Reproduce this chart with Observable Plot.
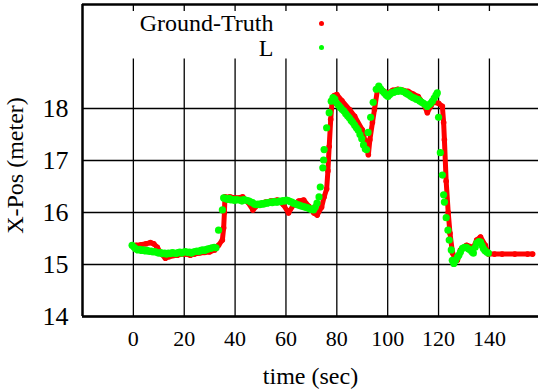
<!DOCTYPE html>
<html><head><meta charset="utf-8">
<script src="https://cdn.jsdelivr.net/npm/d3@7"></script>
<script src="https://cdn.jsdelivr.net/npm/@observablehq/plot@0.6"></script>
<style>
body{margin:0;background:#fff;overflow:hidden}
</style>
</head><body><div id="chart"></div>
<script>
// Ground-Truth series (time in sec, X position in meter)
const gtTime = [1,3,5,6.7,8,9.4,11,12.6,14,17.3,20,22.4,24,26,28,30,32,33.5,35,35.5,35.8,36,38,40.5,43,45,47,49,52,54,56.6,59,61,63,65,67,69,71,72.3,74,75,76,76.5,77,77.6,78.2,79,80,82,85,87,90,91.5,92.4,93,94,94.8,96,98,100,102,104,106,108,110,112,114,115.6,117,118,120,121.5,122,122.3,123,123.8,124.5,125.5,126.5,127.4,128.6,131,133.7,135,136.5,138.4,139.6,142,145,150,155,157];
const gtPos  = [15.37,15.38,15.4,15.42,15.4,15.33,15.2,15.12,15.15,15.18,15.2,15.18,15.2,15.22,15.23,15.24,15.28,15.37,15.47,15.7,16.0,16.3,16.3,16.28,16.3,16.2,16.05,16.15,16.2,16.22,16.24,16.15,15.99,16.15,16.22,16.24,16.12,15.99,15.95,16.1,16.3,16.45,16.8,17.27,17.79,18.17,18.25,18.27,18.15,17.98,17.85,17.59,17.3,17.11,17.4,17.73,17.98,18.37,18.35,18.3,18.35,18.37,18.35,18.33,18.28,18.23,18.1,17.92,18.05,18.12,18.1,18.04,17.73,17.4,16.6,16.0,15.6,15.22,15.1,15.08,15.28,15.37,15.33,15.47,15.53,15.37,15.2,15.2,15.2,15.2,15.2,15.2];
// L series
const lTime = [-0.5,0.3,1,1.8,2.5,3.3,4,4.8,5.5,6.3,7,7.8,8.5,9.3,10,10.8,11.5,12.3,13,13.8,14.5,15.3,16,16.8,17.5,18.3,19,19.8,20.5,21.3,22,22.8,23.5,24.3,25,25.8,26.5,27.3,28,28.8,29.5,30.3,31,31.8,32.5,
  33.5,35,35.5,
  36.2,37,37.7,38.4,39.1,39.8,40.5,41.2,42,42.7,43.4,44.1,44.8,45.5,46.2,46.9,47.6,48.3,49,49.7,50.4,51.1,51.8,52.5,53.2,53.9,54.6,55.3,56,56.7,57.4,58.1,58.8,59.5,60.2,60.9,61.6,62.3,63,63.7,64.4,65.1,65.8,66.5,67.2,67.9,68.6,69.3,70,70.8,71.5,72.2,73,
  73.5,74.5,74.8,75,76,77,77.8,78.5,
  79.2,80,80.7,81.4,82.1,82.8,83.5,84.2,84.9,85.6,86.3,87,87.7,88.4,89.1,89.8,90.5,91.2,91.7,92.3,93.3,94.3,95.5,96.5,
  97.2,98,98.7,99.4,100.1,100.8,101.5,102.2,102.9,103.6,104.3,105,105.7,106.4,107.1,107.8,108.5,109.2,109.9,110.6,111.3,112,112.7,113.4,114.1,114.8,115.5,116.2,116.9,117.6,118.3,119,119.5,
  120,120.7,121.5,122,122.3,123,123.7,124.2,125,125.4,126,126.7,127.4,128,128.6,129.4,130.2,131,131.8,132.5,133.2,133.7,134.4,135,135.8,136.5,137.1,137.6,138.2,138.9,139.6];
const lPos  = [15.37,15.33,15.3,15.28,15.29,15.27,15.28,15.26,15.27,15.25,15.26,15.24,15.25,15.23,15.22,15.23,15.21,15.22,15.2,15.22,15.21,15.23,15.22,15.21,15.23,15.24,15.22,15.24,15.25,15.23,15.24,15.22,15.24,15.25,15.26,15.25,15.27,15.28,15.27,15.29,15.3,15.31,15.32,15.33,15.32,
  15.66,16.05,16.28,
  16.27,16.25,16.27,16.24,16.25,16.23,16.25,16.24,16.24,16.22,16.25,16.24,16.23,16.22,16.2,16.19,16.16,16.15,16.16,16.15,16.17,16.16,16.18,16.18,16.19,16.2,16.19,16.21,16.2,16.2,16.22,16.21,16.23,16.22,16.24,16.23,16.21,16.2,16.18,16.17,16.15,16.14,16.13,16.12,16.11,16.1,16.09,16.07,16.06,16.05,16.1,16.18,16.3,
  16.49,16.86,17.01,17.21,17.63,17.92,18.14,18.21,
  18.18,18.1,18.06,18.02,17.98,17.95,17.9,17.86,17.82,17.77,17.73,17.68,17.63,17.58,17.5,17.42,17.3,17.22,17.21,17.54,17.83,18.12,18.37,18.43,
  18.38,18.33,18.3,18.26,18.23,18.27,18.3,18.31,18.32,18.34,18.33,18.35,18.33,18.32,18.3,18.28,18.26,18.23,18.21,18.2,18.18,18.17,18.14,18.12,18.1,18.07,18.04,18.07,18.1,18.14,18.2,18.26,18.3,
  17.83,17.15,16.72,16.34,16.2,15.9,15.66,15.47,15.28,15.08,15.02,15.08,15.14,15.18,15.24,15.31,15.33,15.33,15.3,15.28,15.24,15.22,15.33,15.41,15.44,15.43,15.37,15.31,15.27,15.24,15.22];

const xTicks = [0,20,40,60,80,100,120,140];
const yTicks = [14,15,16,17,18];
const legendLabels = ["Ground-Truth","L"];
const seriesColors = ["#ff0000","#00ff00"];
const xLabel = "time (sec)";
const yLabel = "X-Pos (meter)";

const gt = gtTime.map((t,i)=>({t, v: gtPos[i]}));
const lp = lTime.map((t,i)=>({t, v: lPos[i]}));
const serif = "Liberation Serif";

const chart = Plot.plot({
  width: 538, height: 392,
  marginLeft: 82, marginRight: 0, marginTop: 4, marginBottom: 76,
  style: {background: "#fff", color: "#000", fontFamily: serif},
  x: {domain: [-20, 159.3]},
  y: {domain: [14, 20]},
  marks: [
    Plot.gridY(yTicks, {stroke: "#000", strokeOpacity: 1, strokeWidth: 1.3}),
    Plot.ruleX(xTicks, {y1: 14, y2: 18.95, stroke: "#000", strokeWidth: 1.3}),
    Plot.axisX(xTicks, {anchor: "top", tickSize: -6, tickFormat: () => "", label: null, strokeWidth: 1.3}),
    Plot.line(gt, {x: "t", y: "v", stroke: seriesColors[0], strokeWidth: 5}),
    Plot.dot(gt, {x: "t", y: "v", fill: seriesColors[0], r: 2.8}),
    Plot.dot(lp, {x: "t", y: "v", fill: seriesColors[1], r: 3.6}),
    Plot.axisX(xTicks, {anchor: "bottom", tickSize: 0, tickPadding: 14, fontSize: 22, label: null, tickFormat: "d"}),
    Plot.axisY(yTicks, {anchor: "left", tickSize: 0, tickPadding: 14, fontSize: 26, label: null, tickFormat: "d"}),
    Plot.ruleY([14, 20], {stroke: "#000", strokeWidth: 2.5}),
    Plot.ruleX([-20], {stroke: "#000", strokeWidth: 2.5}),
    Plot.text([xLabel], {frameAnchor: "bottom", dy: 60, fontSize: 24, lineAnchor: "middle", text: d => d}),
    Plot.text([yLabel], {frameAnchor: "left", dx: -67, dy: 5, rotate: -90, fontSize: 24, textAnchor: "middle", lineAnchor: "middle", text: d => d}),
    Plot.text([legendLabels[0]], {frameAnchor: "top-left", dx: 191, dy: 19, fontSize: 24, textAnchor: "end", lineAnchor: "middle", text: d => d}),
    Plot.text([legendLabels[1]], {frameAnchor: "top-left", dx: 191, dy: 43.5, fontSize: 24, textAnchor: "end", lineAnchor: "middle", text: d => d}),
    Plot.dot([0], {frameAnchor: "top-left", dx: 239, dy: 19, r: 2.5, fill: seriesColors[0]}),
    Plot.dot([0], {frameAnchor: "top-left", dx: 239, dy: 43, r: 2.5, fill: seriesColors[1]})
  ]
});
chart.setAttribute("font-family", serif);
chart.style.setProperty("font-family", "'Liberation Serif', serif", "important");
chart.querySelectorAll("g, text, tspan").forEach(el => {
  if (el.hasAttribute("font-family")) el.setAttribute("font-family", serif);
  el.style.setProperty("font-family", "'Liberation Serif', serif", "important");
});
document.getElementById("chart").append(chart);
</script>
</body></html>
